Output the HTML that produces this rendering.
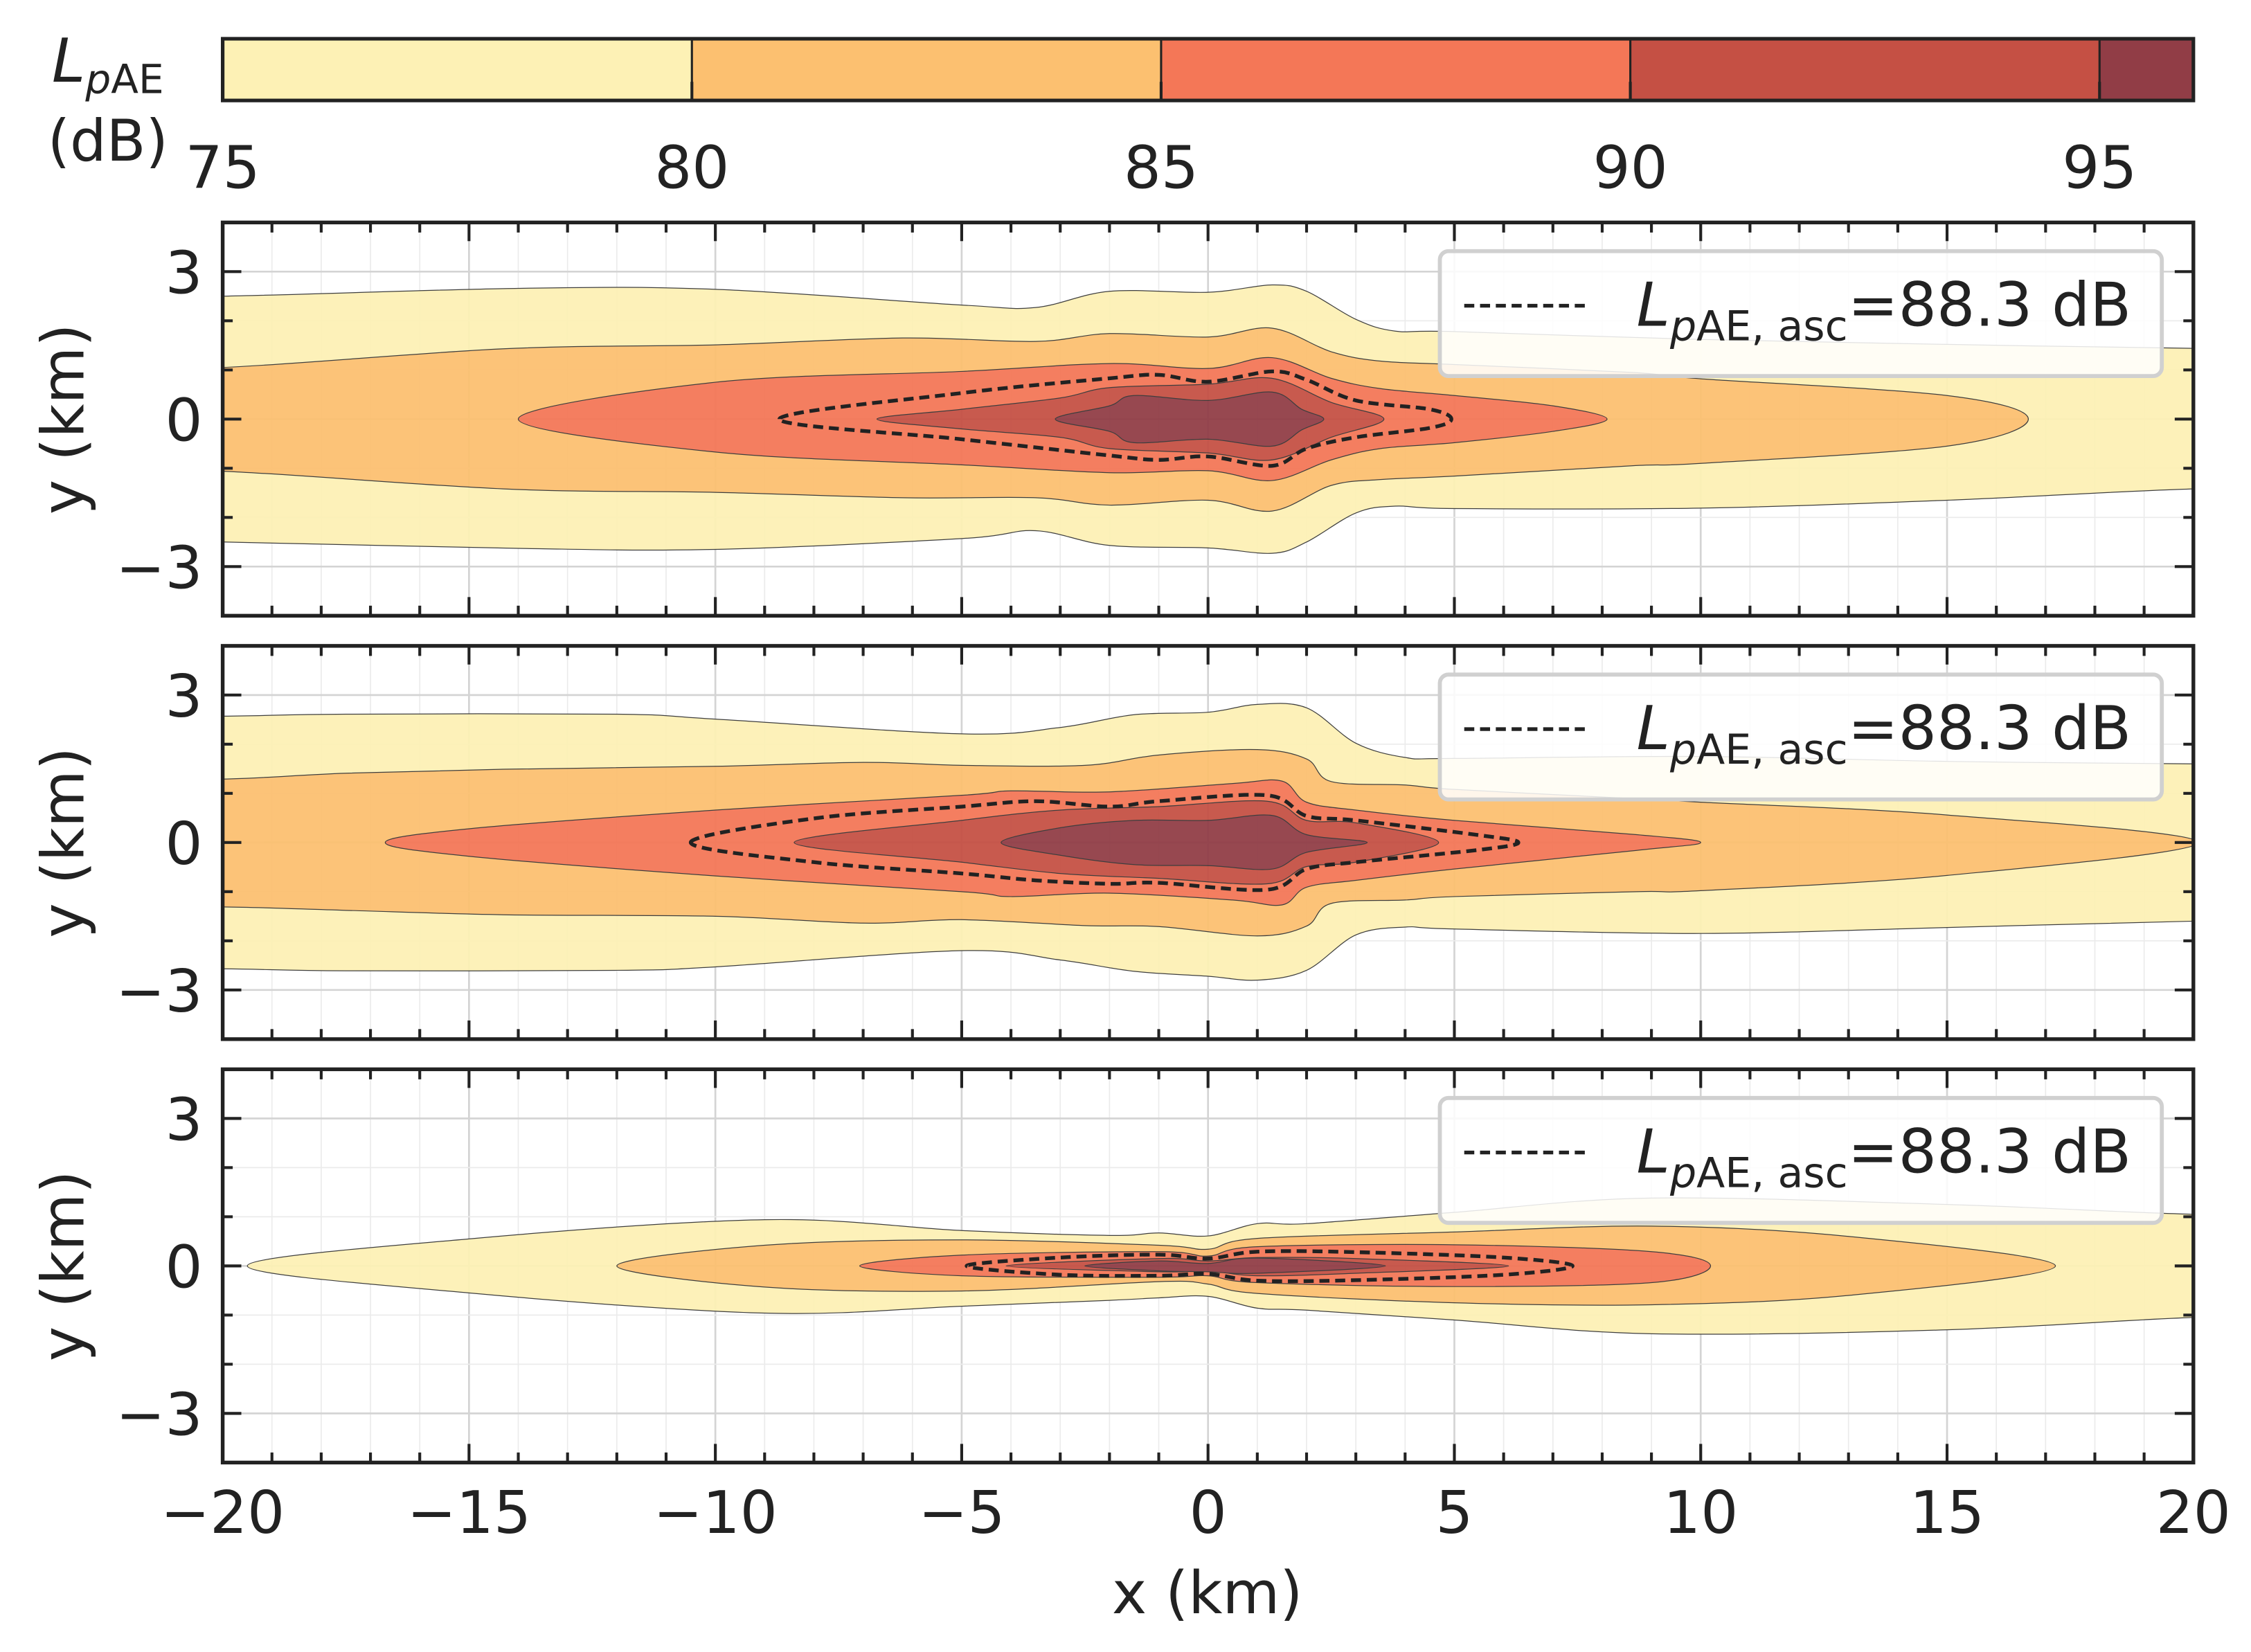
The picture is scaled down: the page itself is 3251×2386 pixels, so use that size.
<!DOCTYPE html>
<html><head><meta charset="utf-8"><style>
html,body{margin:0;padding:0;background:#fff;}
svg{display:block;font-family:"DejaVu Sans","Liberation Sans",sans-serif;}
</style></head><body>
<svg id="fig" xmlns="http://www.w3.org/2000/svg" width="3251" height="2386" viewBox="0 0 1568 1151">
<rect x="0" y="0" width="1568" height="1151" fill="#fff"/>
<g id="cbar"></g>
<g id="panels"></g>
<text x="841" y="1124" font-size="41" text-anchor="middle" fill="#222">x (km)</text>
<g>
<text x="36" y="57" font-size="42" fill="#222"><tspan font-style="italic">L</tspan><tspan font-size="28" dy="8"><tspan font-style="italic">p</tspan>AE</tspan></text>
<text x="33" y="112" font-size="40" fill="#222">(dB)</text>
</g>
</svg>
<script>
// ---- data ----
const cbarLevels = [75, 80, 85, 90, 95, 96];
const cbarTicks = [75, 80, 85, 90, 95];
const levelColors = ["#fdf1b5", "#fcc070", "#f47757", "#c55044", "#913d46"];
const xTicks = [-20, -15, -10, -5, 0, 5, 10, 15, 20];
const yTicks = [3, 0, -3];
const legendText = "=88.3 dB";

// Panel 1 contours
const p1c75x = [-20,-14,-10,-5,-3.5,-2,0,1.3,2,3,3.8,5,10,15,20];
const p1c75u = [2.5,2.66,2.64,2.32,2.27,2.6,2.58,2.73,2.6,2.03,1.79,1.78,1.62,1.52,1.44];
const p1c75l = [-2.5,-2.63,-2.65,-2.43,-2.27,-2.57,-2.62,-2.73,-2.5,-1.91,-1.77,-1.82,-1.81,-1.65,-1.42];
const p1c80x = [-20,-14.3,-10,-6.2,-3.5,-2,0,1.3,2.5,3.5,5,8.6,10,15,16.65];
const p1c80u = [1.05,1.43,1.51,1.65,1.58,1.74,1.67,1.85,1.37,1.18,1.11,0.95,0.82,0.48,0];
const p1c80l = [-1.06,-1.42,-1.49,-1.6,-1.6,-1.75,-1.65,-1.87,-1.35,-1.23,-1.16,-0.95,-0.9,-0.55,0];
const p1c85x = [-14,-10,-5,-2,0,1.3,2.5,3.5,5,7,8.1];
const p1c85u = [0,0.75,0.97,1.13,1.03,1.25,0.83,0.62,0.48,0.27,0];
const p1c85l = [0,-0.67,-0.93,-1.09,-1.05,-1.25,-0.83,-0.6,-0.48,-0.25,0];
const p1dx = [-8.7,-5,-2,-1,0,1.3,2,3,4.5,4.94];
const p1du = [0,0.53,0.83,0.9,0.76,0.97,0.8,0.38,0.2,0];
const p1dl = [0,-0.41,-0.74,-0.83,-0.76,-0.95,-0.6,-0.37,-0.18,0];
const p1c90x = [-6.72,-5,-3,-2,0,1.3,2.5,3.57];
const p1c90u = [0,0.2,0.43,0.64,0.71,0.83,0.34,0];
const p1c90l = [0,-0.2,-0.37,-0.6,-0.69,-0.83,-0.37,0];
const p1c95x = [-3.1,-2,-1.5,0,1.3,1.9,2.35];
const p1c95u = [0,0.27,0.48,0.38,0.55,0.2,0];
const p1c95l = [0,-0.25,-0.48,-0.41,-0.55,-0.22,0];

// Panel 2
const p2c75x = [-20,-17.5,-12,-10,-5,-3,-1.5,0,1,2,3,4,5,10,15,20];
const p2c75u = [2.57,2.61,2.61,2.51,2.21,2.34,2.6,2.65,2.81,2.74,2.02,1.73,1.71,1.75,1.65,1.6];
const p2c75l = [-2.57,-2.61,-2.6,-2.53,-2.2,-2.39,-2.62,-2.72,-2.8,-2.6,-1.88,-1.72,-1.76,-1.85,-1.73,-1.6];
const p2c80x = [-20,-17.5,-14.3,-10,-7,-5,-2.5,-1,1,2,2.5,4,5,8.7,10,15,20.1];
const p2c80u = [1.29,1.41,1.49,1.55,1.63,1.57,1.57,1.78,1.89,1.7,1.24,1.17,1.08,0.89,0.82,0.56,0];
const p2c80l = [-1.31,-1.38,-1.47,-1.5,-1.64,-1.57,-1.69,-1.71,-1.9,-1.7,-1.24,-1.17,-1.1,-1.0,-0.98,-0.67,0];
const p2c85x = [-16.7,-15,-10,-5,-4,-2,0.5,1.5,2,3,5,8.7,10];
const p2c85u = [0,0.28,0.66,0.96,1.05,1.03,1.2,1.25,0.82,0.66,0.45,0.16,0];
const p2c85l = [0,-0.28,-0.68,-1.0,-1.1,-1.03,-1.17,-1.27,-0.91,-0.77,-0.54,-0.16,0];
const p2dx = [-10.5,-8,-5,-3.5,-2,-1,1.2,2,3,5.5,6.3];
const p2du = [0,0.49,0.73,0.84,0.73,0.84,0.96,0.54,0.45,0.15,0];
const p2dl = [0,-0.4,-0.63,-0.77,-0.84,-0.82,-0.96,-0.54,-0.4,-0.15,0];
const p2c90x = [-8.4,-5,-3,-1,1.2,2,3,4.68];
const p2c90u = [0,0.45,0.66,0.73,0.84,0.45,0.4,0];
const p2c90l = [0,-0.4,-0.63,-0.73,-0.84,-0.49,-0.4,0];
const p2c95x = [-4.2,-3,-1.5,0,1.3,2,3.23];
const p2c95u = [0,0.3,0.45,0.45,0.55,0.16,0];
const p2c95l = [0,-0.26,-0.45,-0.47,-0.54,-0.2,0];

// Panel 3
const p3c75x = [-19.5,-15,-9,-5,-2,-1,0,1,2,5,9,15,20];
const p3c75u = [0,0.55,0.94,0.72,0.62,0.67,0.61,0.86,0.86,1.09,1.38,1.25,1.05];
const p3c75l = [0,-0.55,-0.96,-0.82,-0.7,-0.65,-0.62,-0.86,-0.9,-1.1,-1.38,-1.3,-1.05];
const p3c80x = [-12,-9,-5,-1,0,1,5,9,13,17.2];
const p3c80u = [0,0.42,0.53,0.42,0.34,0.56,0.69,0.81,0.6,0];
const p3c80l = [0,-0.43,-0.51,-0.32,-0.37,-0.56,-0.75,-0.79,-0.6,0];
const p3c85x = [-7.07,-5,-1,0,1,5,9,10.2];
const p3c85u = [0,0.22,0.29,0.2,0.39,0.43,0.29,0];
const p3c85l = [0,-0.2,-0.23,-0.2,-0.34,-0.42,-0.34,0];
const p3dx = [-4.9,-3,-1,0,1,3,6,7.4];
const p3du = [0,0.17,0.23,0.15,0.29,0.28,0.17,0];
const p3dl = [0,-0.18,-0.2,-0.16,-0.3,-0.29,-0.18,0];
const p3c90x = [-4.1,-1,0,1,3,6.1];
const p3c90u = [0,0.15,0.1,0.17,0.15,0];
const p3c90l = [0,-0.12,-0.1,-0.2,-0.15,0];
const p3c95x = [-2.5,-1,0,1,3.6];
const p3c95u = [0,0.1,0.05,0.16,0];
const p3c95l = [0,-0.1,-0.12,-0.15,0];

const panelsData = [
  {fills:[[p1c75x,p1c75u,p1c75l],[p1c80x,p1c80u,p1c80l],[p1c85x,p1c85u,p1c85l],[p1c90x,p1c90u,p1c90l],[p1c95x,p1c95u,p1c95l]], dash:[p1dx,p1du,p1dl]},
  {fills:[[p2c75x,p2c75u,p2c75l],[p2c80x,p2c80u,p2c80l],[p2c85x,p2c85u,p2c85l],[p2c90x,p2c90u,p2c90l],[p2c95x,p2c95u,p2c95l]], dash:[p2dx,p2du,p2dl]},
  {fills:[[p3c75x,p3c75u,p3c75l],[p3c80x,p3c80u,p3c80l],[p3c85x,p3c85u,p3c85l],[p3c90x,p3c90u,p3c90l],[p3c95x,p3c95u,p3c95l]], dash:[p3dx,p3du,p3dl]}
];

// ---- layout ----
const NS = "http://www.w3.org/2000/svg";
const L = 155, R = 1528;
const panelTops = [155, 450, 745];
const PH = 274;
function mk(tag, attrs, parent){const e=document.createElementNS(NS,tag);for(const k in attrs)e.setAttribute(k,attrs[k]);parent.appendChild(e);return e;}
const sx = x => L + (x + 20) / 40 * (R - L);
const cb = v => L + (v - 75) / (96 - 75) * (R - L);

const cbg = document.getElementById('cbar');
for (let i = 0; i < levelColors.length; i++) {
  const r = mk('rect',{x:cb(cbarLevels[i]),y:27,width:cb(cbarLevels[i+1])-cb(cbarLevels[i]),height:43,fill:levelColors[i]},cbg);
  
  
  if (i>0){const ln=mk('line',{x1:cb(cbarLevels[i]),x2:cb(cbarLevels[i]),y1:27,y2:70,stroke:'#222','stroke-width':1.5},cbg);
  
  }
}
const cbf = mk('rect',{x:L,y:27,width:R-L,height:43,fill:'none',stroke:'#222','stroke-width':2.5},cbg);


cbarTicks.forEach(v=>{
  const t=mk('line',{x1:cb(v),x2:cb(v),y1:70,y2:57,stroke:'#222','stroke-width':2},cbg);
  
  
  const tx=mk('text',{x:cb(v),y:131,'font-size':41,'text-anchor':'middle',fill:'#222'},cbg);
  tx.textContent=String(v);
  
  
});

function pathFrom(pts){
  const n=pts.length;let d=`M${pts[0][0]},${pts[0][1]}`;
  for(let i=0;i<n;i++){
    const p0=pts[(i-1+n)%n],p1=pts[i],p2=pts[(i+1)%n],p3=pts[(i+2)%n];
    const c1=[p1[0]+(p2[0]-p0[0])/6,p1[1]+(p2[1]-p0[1])/6];
    const c2=[p2[0]-(p3[0]-p1[0])/6,p2[1]-(p3[1]-p1[1])/6];
    d+=` C${c1[0]},${c1[1]} ${c2[0]},${c2[1]} ${p2[0]},${p2[1]}`;
  }
  return d+'Z';
}
function loop(xs,up,lo,sy){
  const n=xs.length;
  const leftTip = up[0]===0&&lo[0]===0, rightTip = up[n-1]===0&&lo[n-1]===0;
  const U=[],Lo=[];
  if(!leftTip){U.push([xs[0]-3,up[0]],[xs[0]-6,up[0]]);U.reverse();Lo.push([xs[0]-6,lo[0]],[xs[0]-3,lo[0]]);}
  for(let i=0;i<n;i++){U.push([xs[i],up[i]]);if(!((i===0&&leftTip)||(i===n-1&&rightTip)))Lo.push([xs[i],lo[i]]);}
  if(!rightTip){U.push([xs[n-1]+3,up[n-1]],[xs[n-1]+6,up[n-1]]);Lo.push([xs[n-1]+3,lo[n-1]],[xs[n-1]+6,lo[n-1]]);}
  const pts=U.map(p=>[sx(p[0]),sy(p[1])]);
  for(let i=Lo.length-1;i>=0;i--)pts.push([sx(Lo[i][0]),sy(Lo[i][1])]);
  return pathFrom(pts);
}

const pg = document.getElementById('panels');
panelsData.forEach((pd,pi)=>{
  const top=panelTops[pi], bot=top+PH;
  const sy = y => top + (4 - y) / 8 * PH;
  const g=mk('g',{},pg);
  
  
  const cp=mk('clipPath',{id:'clip'+pi},g);
  mk('rect',{x:L,y:top,width:R-L,height:PH},cp);
  const gg=mk('g',{},g);
  
  
  for(let x=-20;x<=20;x++){const mj=x%5===0;mk('line',{x1:sx(x),x2:sx(x),y1:top,y2:bot,stroke:mj?'#d4d4d4':'#ebebeb','stroke-width':mj?1.3:0.8},gg);}
  for(let y=-4;y<=4;y++){const mj=y%3===0;mk('line',{x1:L,x2:R,y1:sy(y),y2:sy(y),stroke:mj?'#d4d4d4':'#ebebeb','stroke-width':mj?1.3:0.8},gg);}
  const fg=mk('g',{'clip-path':`url(#clip${pi})`,opacity:0.94},g);
  pd.fills.forEach((c,ci)=>{
    const p=mk('path',{d:loop(c[0],c[1],c[2],sy),fill:levelColors[ci],stroke:'#333','stroke-width':0.6},fg);
    
    
  });
  const dp=mk('path',{d:loop(pd.dash[0],pd.dash[1],pd.dash[2],sy),fill:'none',stroke:'#222','stroke-width':2.6,'stroke-dasharray':'7,4','clip-path':`url(#clip${pi})`},g);
  
  
  const tg=mk('g',{stroke:'#222','stroke-width':2},g);
  
  
  for(let x=-20;x<=20;x++){const len=x%5===0?13:7;mk('line',{x1:sx(x),x2:sx(x),y1:bot,y2:bot-len},tg);mk('line',{x1:sx(x),x2:sx(x),y1:top,y2:top+len},tg);}
  for(let y=-4;y<=4;y++){const len=y%3===0?13:7;mk('line',{x1:L,x2:L+len,y1:sy(y),y2:sy(y)},tg);mk('line',{x1:R,x2:R-len,y1:sy(y),y2:sy(y)},tg);}
  const fr=mk('rect',{x:L,y:top,width:R-L,height:PH,fill:'none',stroke:'#222','stroke-width':2.6},g);
  
  
  yTicks.forEach(v=>{
    const t=mk('text',{x:141,y:sy(v)+15,'font-size':41,'text-anchor':'end',fill:'#222'},g);
    t.textContent=v<0?'\u2212'+Math.abs(v):String(v);
    
    
  });
  const yl=mk('text',{x:0,y:0,'font-size':41,'text-anchor':'middle',fill:'#222',transform:`translate(58,${top+PH/2}) rotate(-90)`},g);
  yl.textContent='y (km)';
  
  
  const lg=mk('g',{},g);
  
  
  mk('rect',{x:1003,y:top+20,width:503,height:87,rx:6,fill:'#fff','fill-opacity':0.85,stroke:'#d0d0d0','stroke-width':2.8},lg);
  mk('line',{x1:1020,x2:1105,y1:top+58,y2:top+58,stroke:'#222','stroke-width':2.6,'stroke-dasharray':'7,4'},lg);
  const lt=mk('text',{x:1140,y:top+72,'font-size':42,fill:'#222'},lg);
  lt.innerHTML='<tspan font-style="italic">L</tspan><tspan font-size="29" dy="10"><tspan font-style="italic">p</tspan>AE, asc</tspan><tspan dy="-10">'+legendText+'</tspan>';
  
  
  if(pi===2){
    xTicks.forEach(v=>{
      const t=mk('text',{x:sx(v),y:1068,'font-size':41,'text-anchor':'middle',fill:'#222'},g);
      t.textContent=v<0?'\u2212'+Math.abs(v):String(v);
      
      
    });
  }
});
</script>
</body></html>
